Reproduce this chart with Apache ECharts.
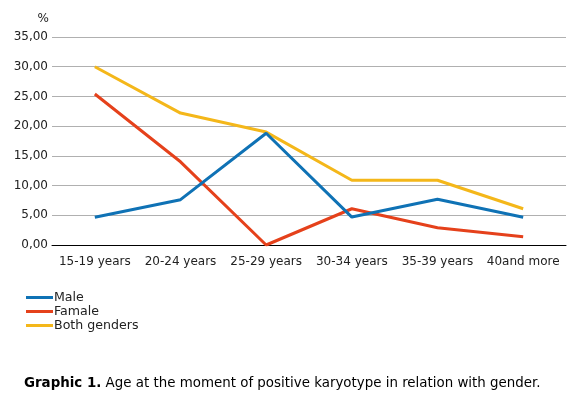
<!DOCTYPE html>
<html><head><meta charset="utf-8">
<script src="https://cdn.jsdelivr.net/npm/echarts@6/dist/echarts.min.js"></script>
<style>html,body{margin:0;padding:0;background:#fff}#c{width:577px;height:399px}</style>
</head><body><div id="c"></div>
<script>
const categories = ['15-19 years','20-24 years','25-29 years','30-34 years','35-39 years','40and more'];
const male = [4.66, 7.63, 18.8, 4.7, 7.7, 4.66];
const female = [25.4, 14.0, 0, 6.1, 2.9, 1.4];
const both = [30.0, 22.2, 19.0, 10.9, 10.9, 6.1];
const seriesNames = ['Male','Famale','Both genders'];
const colors = ['#0f72b5','#e5411b','#f4b71a'];
const font = 'DejaVu Sans, Verdana, sans-serif';
const chart = echarts.init(document.getElementById('c'));
const mk = (name, data, i) => ({
  name, type:'line', data, symbol:'none', smooth:false,
  lineStyle:{width:3, color:colors[i]}, itemStyle:{color:colors[i]}, z: 3 - i
});
chart.setOption({
  animation:false,
  grid:{left:52, right:11, top:37, bottom:154, containLabel:false},
  xAxis:{type:'category', data:categories, boundaryGap:true,
    axisLine:{lineStyle:{color:'#000', width:1}}, axisTick:{show:false},
    axisLabel:{color:'#222', fontFamily:font, fontSize:12, margin:11, interval:0}},
  yAxis:{type:'value', min:0, max:35, interval:5, name:'%', nameLocation:'end',
    nameGap:12, nameTextStyle:{color:'#222', fontFamily:font, fontSize:12, align:'right', padding:[0,3,0,0]},
    axisLine:{show:false}, axisTick:{show:false},
    splitLine:{lineStyle:{color:'#b0b0b0', width:1}},
    axisLabel:{color:'#222', fontFamily:font, fontSize:12, margin:4,
      formatter:v=>v.toFixed(2).replace('.',',')}},
  legend:{orient:'vertical', left:21, top:286, itemGap:1, itemWidth:27, itemHeight:12,
    icon:'path://M0,5 L27,5 L27,8 L0,8 Z',
    textStyle:{color:'#222', fontFamily:font, fontSize:12.6, padding:[0,0,0,-4]},
    data:seriesNames},
  graphic:[{type:'text', left:24, top:377, style:{
    text:'{b|Graphic 1.} Age at the moment of positive karyotype in relation with gender.',
    fontFamily:font, fontSize:13.4, fill:'#000',
    rich:{b:{fontWeight:'bold', fontFamily:font, fontSize:13.4, fill:'#000'}}}}],
  series:[mk(seriesNames[0], male, 0), mk(seriesNames[1], female, 1), mk(seriesNames[2], both, 2)]
});
</script></body></html>
